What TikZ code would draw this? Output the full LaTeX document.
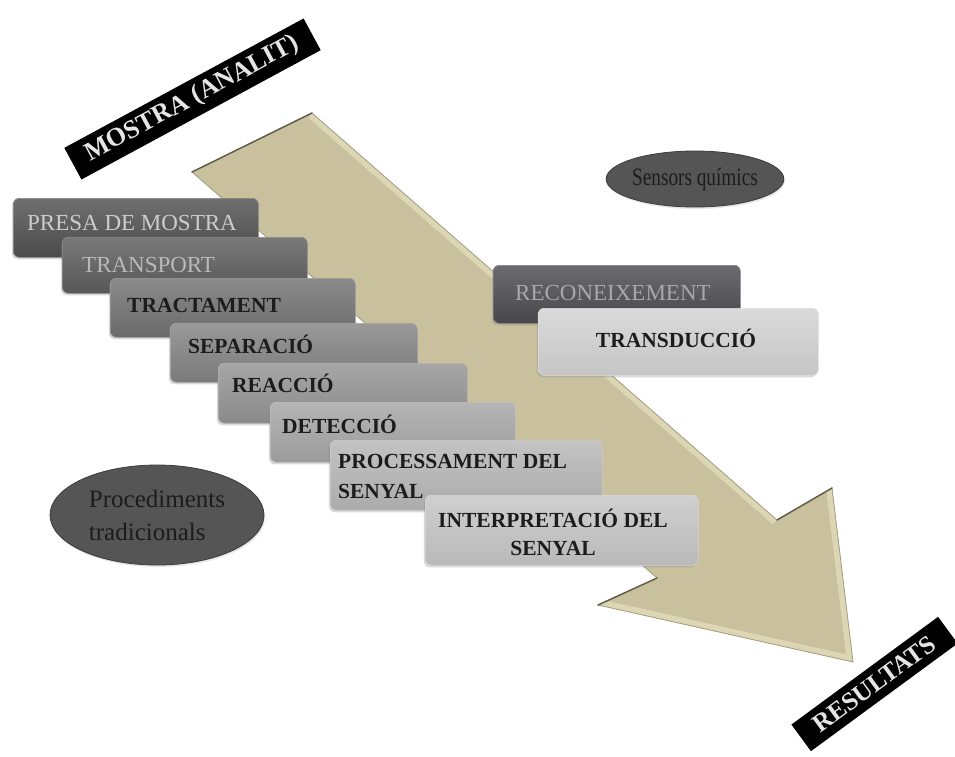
\documentclass[tikz,border=0pt]{standalone}
\usepackage{fontspec}
\setmainfont{Liberation Serif}
\newfontfamily\narrowserif[FakeStretch=0.77]{Liberation Serif}
\usetikzlibrary{shapes.geometric,shadows}

\definecolor{arrowtan}{HTML}{C9C19D}
\definecolor{arrowrim}{HTML}{DCD6B4}
\definecolor{arrowedge}{HTML}{A29C80}
\definecolor{arrowdark}{HTML}{5E5A48}
\definecolor{cA}{HTML}{505050}
\definecolor{cB}{HTML}{5C5C5C}
\definecolor{cC}{HTML}{717171}
\definecolor{cD}{HTML}{828282}
\definecolor{cE}{HTML}{939393}
\definecolor{cF}{HTML}{A5A5A5}
\definecolor{cG}{HTML}{B6B6B6}
\definecolor{cH}{HTML}{C5C5C5}
\definecolor{cR}{HTML}{4B4B50}
\definecolor{cT}{HTML}{D2D2D2}
\definecolor{ovalgray}{HTML}{555555}
\definecolor{darkink}{HTML}{1C1C1C}

\begin{document}
\begin{tikzpicture}[x=1pt,y=1pt,
  pbox/.style={rounded corners=6pt, inner sep=0pt, anchor=north west,
    top color=#1!82!white, bottom color=#1!94!black,
    draw=#1!70!white, line width=0.6pt,
    drop shadow={shadow xshift=-1.5pt, shadow yshift=-2pt, opacity=0.3}},
  lighttxt/.style={inner sep=0pt, text=#1, font=\fontsize{23}{27}\selectfont},
  darktxt/.style={inner sep=0pt, text=darkink, font=\fontsize{21.5}{26}\selectfont\bfseries},
  oval/.style={ellipse, inner sep=0pt, fill=ovalgray, draw=ovalgray!70!black,
    line width=0.8pt, text=darkink,
    drop shadow={shadow xshift=1pt, shadow yshift=-2pt, opacity=0.2}},
  band/.style={inner sep=0pt, fill=black, text=white!90!black}]

\useasboundingbox (0,0) rectangle (955,-756);

% big diagonal arrow behind the steps
\coordinate (A) at (192,-172);
\coordinate (B) at (312,-113);
\coordinate (C) at (777,-520);
\coordinate (D) at (832,-488);
\coordinate (E) at (853,-662);
\coordinate (F) at (598,-605);
\coordinate (G) at (657,-578);
\fill[arrowtan] (A) -- (B) -- (C) -- (D) -- (E) -- (F) -- (G) -- cycle;
\begin{scope}
  % bevel: light faces on the edges turned towards the light
  \clip (A) -- (B) -- (C) -- (D) -- (E) -- (F) -- (G) -- cycle;
  \draw[arrowrim, line width=12pt] (B) -- (C);
  \draw[arrowrim, line width=12pt] (D) -- (E) -- (F);
\end{scope}
\draw[arrowedge, line width=0.8pt, line join=miter]
  (A) -- (B) -- (C) -- (D) -- (E) -- (F) -- (G) -- cycle;
% dark rims on the edges in shade
\draw[arrowdark, line width=1.4pt, line cap=round] (A) -- (B);
\draw[arrowdark, line width=1.4pt, line cap=round] (C) -- (D);
\draw[arrowdark, line width=1.4pt, line cap=round] (F) -- (G);

% traditional procedure steps
\node[pbox=cA, minimum width=245pt, minimum height=59pt] (b1) at (13,-198) {};
\node[lighttxt=white!80!black, anchor=base west] (t1) at (27,-230) {PRESA DE MOSTRA};

\node[pbox=cB, minimum width=245pt, minimum height=56pt] (b2) at (62,-237) {};
\node[lighttxt=white!72!black, anchor=base west] (t2) at (82,-272) {TRANSPORT};

\node[pbox=cC, minimum width=245pt, minimum height=59pt] (b3) at (110,-278) {};
\node[darktxt, anchor=base west] (t3) at (127,-312) {TRACTAMENT};

\node[pbox=cD, minimum width=247pt, minimum height=59pt] (b4) at (170,-323) {};
\node[darktxt, anchor=base west] (t4) at (188,-353) {SEPARACIÓ};

\node[pbox=cE, minimum width=249pt, minimum height=60pt] (b5) at (218,-363) {};
\node[darktxt, anchor=base west] (t5) at (232,-392) {REACCIÓ};

\node[pbox=cF, minimum width=245pt, minimum height=60pt] (b6) at (270,-402) {};
\node[darktxt, anchor=base west] (t6) at (282,-433) {DETECCIÓ};

\node[pbox=cG, minimum width=272pt, minimum height=70pt] (b7) at (330,-440) {};
\node[darktxt, anchor=base west] (t7a) at (338,-468) {PROCESSAMENT DEL};
\node[darktxt, anchor=base west] (t7b) at (338,-498) {SENYAL};

\node[pbox=cH, minimum width=273pt, minimum height=70pt] (b8) at (425,-495) {};
\node[darktxt, anchor=base] (t8a) at (553,-527) {INTERPRETACIÓ DEL};
\node[darktxt, anchor=base] (t8b) at (553,-555) {SENYAL};

% chemical sensor steps
\node[pbox=cR, minimum width=247pt, minimum height=58pt] (r1) at (493,-265) {};
\node[lighttxt=white!66!black, anchor=base west] (s1) at (515,-300) {RECONEIXEMENT};

\node[pbox=cT, minimum width=280pt, minimum height=67pt] (r2) at (538,-308) {};
\node[darktxt, anchor=base] (s2) at (676,-347) {TRANSDUCCIÓ};

% group labels
\node[oval, minimum width=214pt, minimum height=100pt, align=left,
  font=\fontsize{25}{33}\selectfont] (e1) at (157,-515) {Procediments\\tradicionals};
\node[oval, minimum width=174pt, minimum height=56pt,
  font=\narrowserif\fontsize{25}{30}\selectfont] (e2) at (695,-179) {Sensors químics};

% start and end tags
\node[band, rotate=28.4, minimum width=272pt, minimum height=36pt,
  font=\fontsize{26}{30}\selectfont\bfseries] (m) at (192.5,-99) {MOSTRA (ANALIT)};
\node[band, rotate=36.3, minimum width=182pt, minimum height=33pt,
  font=\fontsize{25.5}{30}\selectfont\bfseries] (res) at (874.5,-684) {RESULTATS};

\end{tikzpicture}
\end{document}
